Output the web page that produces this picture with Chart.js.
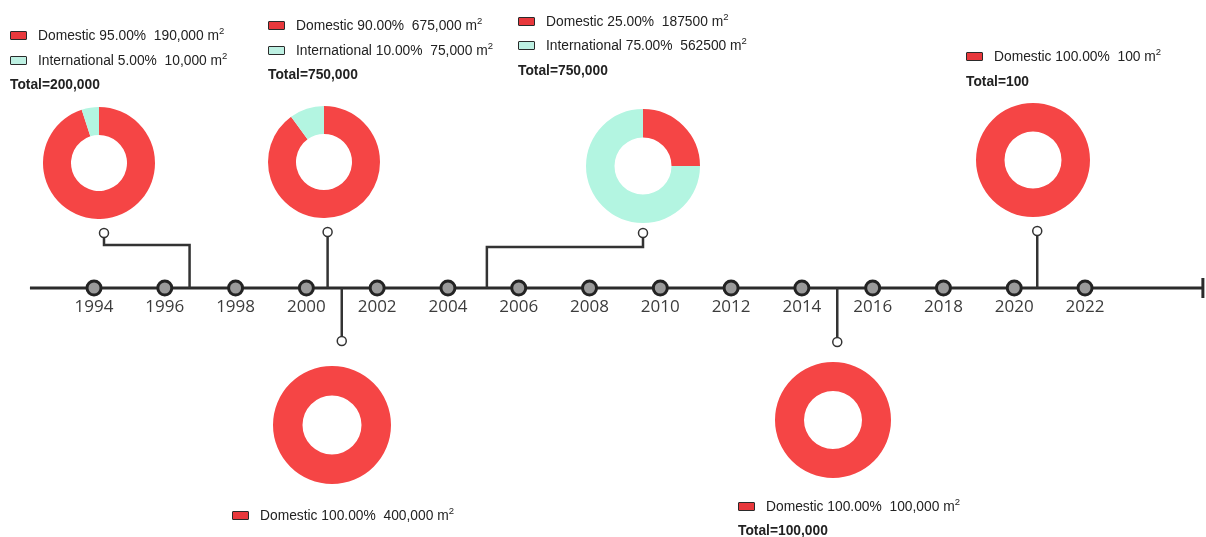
<!DOCTYPE html>
<html>
<head>
<meta charset="utf-8">
<title>Timeline</title>
<script src="https://cdn.jsdelivr.net/npm/chart.js@4.4.0/dist/chart.umd.min.js"></script>
<style>
    body { margin: 0; background: #fff; }
    #wrap { position: relative; width: 1206px; height: 537px; overflow: hidden;
            font-family: "Liberation Sans", Arial, sans-serif; }
    #timeline { position: absolute; left: 0; top: 0; }
    .donut { position: absolute; }
    .legend { position: absolute; font-size: 13.8px; color: #222; }
    .row { height: 24.5px; line-height: 24.5px; white-space: nowrap; }
    .row sup { font-size: 9.5px; line-height: 0; vertical-align: 6px; }
    .total { font-weight: bold; }
    .box { display: inline-block; width: 15px; height: 7px; border: 1.5px solid #2a2a2a;
           border-radius: 1px; vertical-align: middle; margin: -2px 11px 0 0; }
</style>
</head>
<body>
<div id="wrap">
    <canvas id="timeline" width="1206" height="537"></canvas>
</div>
<script>
// timeline ticks
var years = [1994, 1996, 1998, 2000, 2002, 2004, 2006, 2008, 2010, 2012, 2014, 2016, 2018, 2020, 2022];

// events on the timeline, in time order
var eventYears = [1996.7, 2000.6, 2001.0, 2005.1, 2015.0, 2020.65];
var domestic = [190000, 675000, 400000, 187500, 100000, 100];
var international = [10000, 75000, 0, 562500, 0, 0];
var thousandsSep = [true, true, true, false, true, true];
var showTotal = [true, true, false, true, true, true];

var seriesNames = ["Domestic", "International"];
var seriesColors = ["#F54545", "#B3F5E1"];
var boxColors = ["#E8383C", "#BDF0E2"];

// where each donut / legend / connector sits on the page
var layout = [
    { cx: 99,   cy: 163, r: 56, markY: 233, elbow: { x: 104, y: 245 }, legend: [10, 36.5] },
    { cx: 324,  cy: 162, r: 56, markY: 232, elbow: null, legend: [268, 26.5] },
    { cx: 332,  cy: 425, r: 59, markY: 341, elbow: null, legend: [232, 516] },
    { cx: 643,  cy: 166, r: 57, markY: 233, elbow: { x: 643, y: 247 }, legend: [518, 22] },
    { cx: 833,  cy: 420, r: 58, markY: 342, elbow: null, legend: [738, 507] },
    { cx: 1033, cy: 160, r: 57, markY: 231, elbow: null, legend: [966, 57.5] }
];

// x range so 1994 and 2022 fall where the picture has them
var xMin = 1991.344, xMax = 2025.418;
var axisStart = 1992.19, axisEnd = 2025.33;

var wrap = document.getElementById("wrap");

//axis line, year labels, connectors and end bar
var timelinePlugin = {
    id: "timelineLines",
    beforeDatasetsDraw: function (chart) {
        var ctx = chart.ctx, xs = chart.scales.x, ys = chart.scales.y;
        var y0 = ys.getPixelForValue(0);
        ctx.save();
        ctx.strokeStyle = "#2b2b2b";
        ctx.lineWidth = 3;
        ctx.beginPath();
        ctx.moveTo(xs.getPixelForValue(axisStart), y0);
        ctx.lineTo(xs.getPixelForValue(axisEnd), y0);
        ctx.stroke();
        var xe = xs.getPixelForValue(axisEnd);
        ctx.beginPath();
        ctx.moveTo(xe, y0 - 10);
        ctx.lineTo(xe, y0 + 10);
        ctx.stroke();

        ctx.fillStyle = "#3c3c3c";
        ctx.font = "17px 'Open Sans'";
        ctx.textAlign = "center";
        ctx.textBaseline = "middle";
        years.forEach(function (y) {
            ctx.fillText(String(y), xs.getPixelForValue(y), y0 + 19);
        });

        ctx.lineWidth = 2.5;
        ctx.strokeStyle = "#333";
        eventYears.forEach(function (yr, i) {
            var L = layout[i];
            var ex = xs.getPixelForValue(yr);
            ctx.beginPath();
            ctx.moveTo(ex, y0);
            if (L.elbow) {
                ctx.lineTo(ex, L.elbow.y);
                ctx.lineTo(L.elbow.x, L.elbow.y);
                ctx.lineTo(L.elbow.x, L.markY);
            } else {
                ctx.lineTo(ex, L.markY);
            }
            ctx.stroke();
        });
        ctx.lineWidth = 1.5;
        eventYears.forEach(function (yr, i) {
            var L = layout[i];
            var mx = L.elbow ? L.elbow.x : xs.getPixelForValue(yr);
            ctx.beginPath();
            ctx.arc(mx, L.markY, 4.5, 0, Math.PI * 2);
            ctx.fillStyle = "#fff";
            ctx.fill();
            ctx.stroke();
        });
        ctx.restore();
    }
};

//main timeline chart
var timeline = new Chart(document.getElementById("timeline"), {
    type: "scatter",
    data: {
        datasets: [{
            data: years.map(function (y) { return { x: y, y: 0 }; }),
            pointRadius: 7,
            pointBackgroundColor: "#9a9a9a",
            pointBorderColor: "#232323",
            pointBorderWidth: 3
        }]
    },
    options: {
        responsive: false,
        animation: false,
        events: [],
        layout: { padding: 0, autoPadding: false },
        plugins: { legend: { display: false }, tooltip: { enabled: false } },
        scales: {
            x: { type: "linear", min: xMin, max: xMax, display: false },
            y: { min: -249, max: 288, display: false }
        }
    },
    plugins: [timelinePlugin]
});

function fmt(v, sep) {
    return sep ? v.toLocaleString("en-US") : String(v);
}

//donuts and their legends
eventYears.forEach(function (yr, i) {
    var L = layout[i];
    var values = [domestic[i], international[i]];
    var total = values[0] + values[1];

    var cv = document.createElement("canvas");
    cv.className = "donut";
    cv.width = L.r * 2;
    cv.height = L.r * 2;
    cv.style.left = (L.cx - L.r) + "px";
    cv.style.top = (L.cy - L.r) + "px";
    wrap.appendChild(cv);

    new Chart(cv, {
        type: "doughnut",
        data: {
            labels: seriesNames,
            datasets: [{
                data: values,
                backgroundColor: seriesColors,
                borderWidth: 0,
                hoverOffset: 0
            }]
        },
        options: {
            responsive: false,
            animation: false,
            events: [],
            cutout: "50%",
            layout: { padding: 0, autoPadding: false },
            plugins: { legend: { display: false }, tooltip: { enabled: false } }
        }
    });

    var lg = document.createElement("div");
    lg.className = "legend";
    lg.style.left = L.legend[0] + "px";
    lg.style.top = (L.legend[1] - 12.25) + "px";
    var html = "";
    values.forEach(function (v, k) {
        if (v <= 0) return;
        html += '<div class="row"><span class="box" style="background:' + boxColors[k] + '"></span>' +
            seriesNames[k] + " " + (v / total * 100).toFixed(2) + "%&nbsp; " +
            fmt(v, thousandsSep[i]) + " m<sup>2</sup></div>";
    });
    if (showTotal[i]) {
        html += '<div class="row total">Total=' + fmt(total, true) + "</div>";
    }
    lg.innerHTML = html;
    wrap.appendChild(lg);
});
</script>
</body>
</html>
